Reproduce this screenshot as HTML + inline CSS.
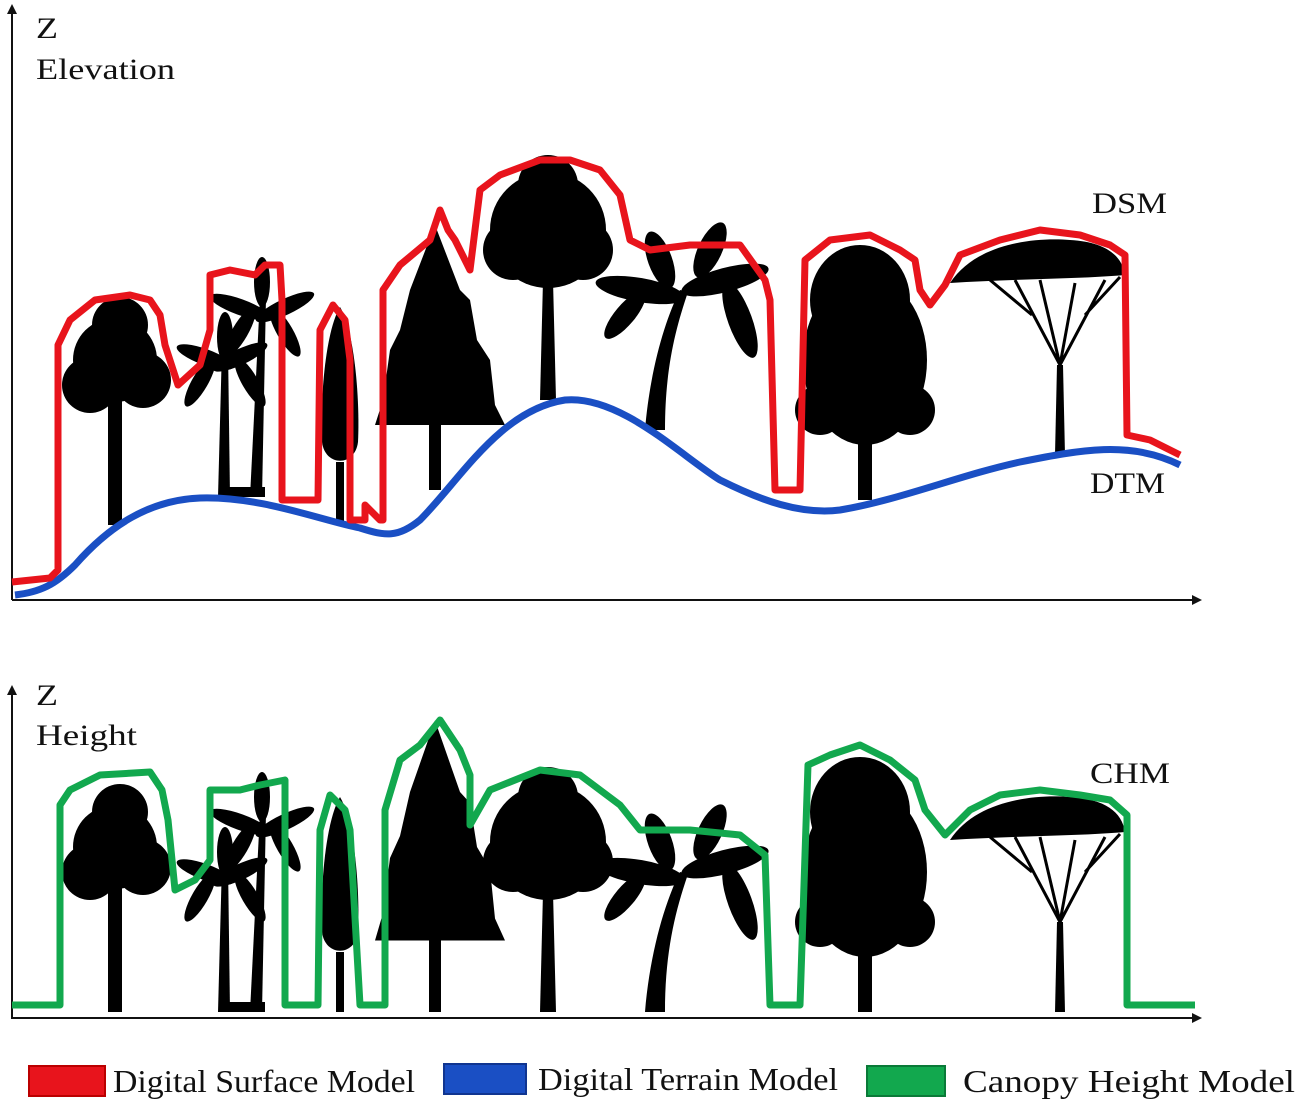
<!DOCTYPE html>
<html><head><meta charset="utf-8"><style>
html,body{margin:0;padding:0;background:#fff;}
svg{display:block;}
text{font-family:"Liberation Serif",serif;fill:#111;}
</style></head><body>
<svg width="1300" height="1107" viewBox="0 0 1300 1107" xmlns="http://www.w3.org/2000/svg">
<defs>
<g id="t1"><rect x="-7" y="-130" width="14" height="130"/><circle cx="0" cy="-165" r="42"/><circle cx="-25" cy="-140" r="28"/><circle cx="28" cy="-145" r="28"/><circle cx="5" cy="-200" r="28"/></g>
<g id="t2"><path d="M-22 0 L-18 -150 L-12 -150 L-10 0Z"/><path d="M10 0 L20 -200 L26 -200 L22 0Z"/>
<ellipse cx="-35" cy="-140" rx="30" ry="8" transform="rotate(20 -35 -140)"/><ellipse cx="0" cy="-140" rx="30" ry="8" transform="rotate(-25 0 -140)"/><ellipse cx="-15" cy="-160" rx="8" ry="25"/><ellipse cx="-40" cy="-115" rx="8" ry="28" transform="rotate(30 -40 -115)"/><ellipse cx="10" cy="-115" rx="8" ry="28" transform="rotate(-30 10 -115)"/>
<ellipse cx="0" cy="-190" rx="32" ry="8" transform="rotate(20 0 -190)"/><ellipse cx="45" cy="-190" rx="32" ry="8" transform="rotate(-25 45 -190)"/><ellipse cx="22" cy="-215" rx="8" ry="25"/><ellipse cx="0" cy="-165" rx="8" ry="28" transform="rotate(30 0 -165)"/><ellipse cx="45" cy="-165" rx="8" ry="28" transform="rotate(-30 45 -165)"/><rect x="-20" y="-10" width="45" height="10"/></g>
<g id="t3"><rect x="-4" y="-60" width="8" height="60"/><path d="M0 -215 C15 -190 20 -120 18 -80 C15 -55 -15 -55 -18 -80 C-20 -120 -15 -190 0 -215Z"/></g>
<g id="t4"><rect x="-6" y="-90" width="12" height="90"/><path d="M0 -265 L25 -200 L35 -190 L42 -150 L55 -130 L60 -85 L70 -65 L-60 -65 L-52 -90 L-45 -140 L-35 -160 L-25 -200Z"/></g>
<g id="t5"><path d="M-8 0 L-5 -120 L5 -120 L8 0Z"/><circle cx="0" cy="-170" r="58"/><circle cx="-35" cy="-150" r="30"/><circle cx="35" cy="-150" r="30"/><circle cx="0" cy="-215" r="30"/></g>
<g id="t6"><path d="M-35 0 C-30 -60 -15 -110 0 -140 L8 -138 C-5 -100 -15 -60 -15 0Z"/>
<ellipse cx="-40" cy="-140" rx="45" ry="12" transform="rotate(10 -40 -140)"/><ellipse cx="45" cy="-150" rx="45" ry="12" transform="rotate(-15 45 -150)"/><ellipse cx="60" cy="-110" rx="12" ry="40" transform="rotate(-20 60 -110)"/><ellipse cx="-20" cy="-170" rx="12" ry="30" transform="rotate(-20 -20 -170)"/><ellipse cx="30" cy="-180" rx="12" ry="30" transform="rotate(25 30 -180)"/><ellipse cx="-55" cy="-115" rx="10" ry="30" transform="rotate(40 -55 -115)"/></g>
<g id="t7"><rect x="-7" y="-60" width="14" height="60"/><ellipse cx="0" cy="-140" rx="62" ry="85"/><ellipse cx="-5" cy="-200" rx="50" ry="55"/><circle cx="-45" cy="-90" r="25"/><circle cx="45" cy="-90" r="25"/></g>
<g id="t8"><path d="M-5 0 L-3 -90 L3 -90 L5 0Z" /><path d="M0 -90 L-45 -175 M0 -90 L-20 -175 M0 -90 L15 -172 M0 -90 L45 -175 M-28 -140 L-70 -175 M25 -140 L60 -178" stroke="#000" stroke-width="3" fill="none"/><path d="M-110 -172 C-85 -210 -30 -218 10 -215 C45 -213 62 -200 65 -180 C20 -176 -50 -176 -110 -172Z"/></g>
</defs>
<g stroke="#111" stroke-width="2" fill="none"><path d="M12 600 V8"/><path d="M12 600 H1198"/><path d="M12 690 V1018 H1198"/></g>
<path d="M7 14 L12 4 L17 14Z M1192 595 L1202 600 L1192 605Z M7 695 L12 685 L17 695Z M1192 1013 L1202 1018 L1192 1023Z" fill="#111"/>
<text x="36" y="38" font-size="30" textLength="22" lengthAdjust="spacingAndGlyphs">Z</text><text x="36" y="79" font-size="30" textLength="139" lengthAdjust="spacingAndGlyphs">Elevation</text>
<text x="36" y="705" font-size="30" textLength="22" lengthAdjust="spacingAndGlyphs">Z</text><text x="36" y="745" font-size="30" textLength="101" lengthAdjust="spacingAndGlyphs">Height</text>
<text x="1092" y="213" font-size="30" textLength="75" lengthAdjust="spacingAndGlyphs">DSM</text><text x="1090" y="493" font-size="30" textLength="75" lengthAdjust="spacingAndGlyphs">DTM</text><text x="1090" y="783" font-size="30" textLength="80" lengthAdjust="spacingAndGlyphs">CHM</text>
<g fill="#000">
<use href="#t1" transform="translate(115,525)"/><use href="#t2" transform="translate(240,497)"/><use href="#t3" transform="translate(340,522)"/><use href="#t4" transform="translate(435,490)"/><use href="#t5" transform="translate(548,400)"/><use href="#t6" transform="translate(680,430)"/><use href="#t7" transform="translate(865,500)"/><use href="#t8" transform="translate(1060,455)"/>
<use href="#t1" transform="translate(115,1012)"/><use href="#t2" transform="translate(240,1012)"/><use href="#t3" transform="translate(340,1012)"/><use href="#t4" transform="translate(435,1012) scale(1,1.1)"/><use href="#t5" transform="translate(548,1012)"/><use href="#t6" transform="translate(680,1012)"/><use href="#t7" transform="translate(865,1012)"/><use href="#t8" transform="translate(1060,1012)"/>
</g>
<path d="M15 595 C40 592 55 585 75 565 C110 525 150 500 200 498 C260 496 320 520 360 528 C385 536 398 538 420 520 C460 480 500 410 565 400 C620 395 680 455 720 480 C760 500 800 515 840 510 C900 500 960 475 1020 462 C1080 450 1130 440 1180 465" fill="none" stroke="#1a4fc4" stroke-width="7"/>
<path d="M12 582 L50 578 L58 570 L58 345 L70 320 L95 300 L130 295 L150 300 L160 315 L165 345 L178 385 L200 365 L210 330 L210 275 L230 270 L255 275 L265 265 L280 265 L282 300 L282 500 L318 500 L320 330 L333 305 L345 320 L350 360 L350 520 L365 520 L365 505 L380 520 L383 520 L383 290 L400 265 L430 240 L440 210 L448 230 L455 240 L470 270 L480 190 L500 175 L540 160 L570 160 L600 170 L620 195 L630 240 L650 250 L690 245 L740 245 L765 280 L770 300 L775 490 L800 490 L805 260 L830 240 L870 235 L900 250 L915 260 L920 290 L930 305 L945 285 L960 255 L1000 240 L1040 230 L1080 235 L1110 245 L1125 255 L1127 435 L1150 440 L1180 455" fill="none" stroke="#e8141c" stroke-width="7" stroke-linejoin="round"/>
<path d="M12 1005 L60 1005 L60 805 L70 790 L100 775 L150 772 L162 790 L168 820 L175 890 L195 880 L210 860 L210 790 L240 790 L260 785 L285 780 L285 1005 L318 1005 L320 830 L330 795 L345 810 L350 830 L360 1005 L385 1005 L385 810 L400 760 L420 745 L440 720 L460 750 L470 775 L470 825 L490 790 L540 770 L580 775 L620 805 L640 830 L690 830 L740 835 L765 855 L770 1005 L800 1005 L808 765 L830 755 L860 745 L890 760 L915 780 L925 810 L945 835 L970 810 L1000 795 L1040 790 L1080 795 L1110 800 L1127 815 L1127 1005 L1195 1005" fill="none" stroke="#12a84e" stroke-width="7" stroke-linejoin="round"/>
<rect x="29" y="1066" width="76" height="30" fill="#e8141c" stroke="#b00" stroke-width="2"/>
<text x="113" y="1092" font-size="32" textLength="302" lengthAdjust="spacingAndGlyphs">Digital Surface Model</text>
<rect x="444" y="1064" width="82" height="30" fill="#1a4fc4" stroke="#103590" stroke-width="2"/>
<text x="538" y="1090" font-size="32" textLength="300" lengthAdjust="spacingAndGlyphs">Digital Terrain Model</text>
<rect x="867" y="1066" width="78" height="30" fill="#12a84e" stroke="#0a7a38" stroke-width="2"/>
<text x="963" y="1092" font-size="32" textLength="332" lengthAdjust="spacingAndGlyphs">Canopy Height Model</text>
</svg>
</body></html>
